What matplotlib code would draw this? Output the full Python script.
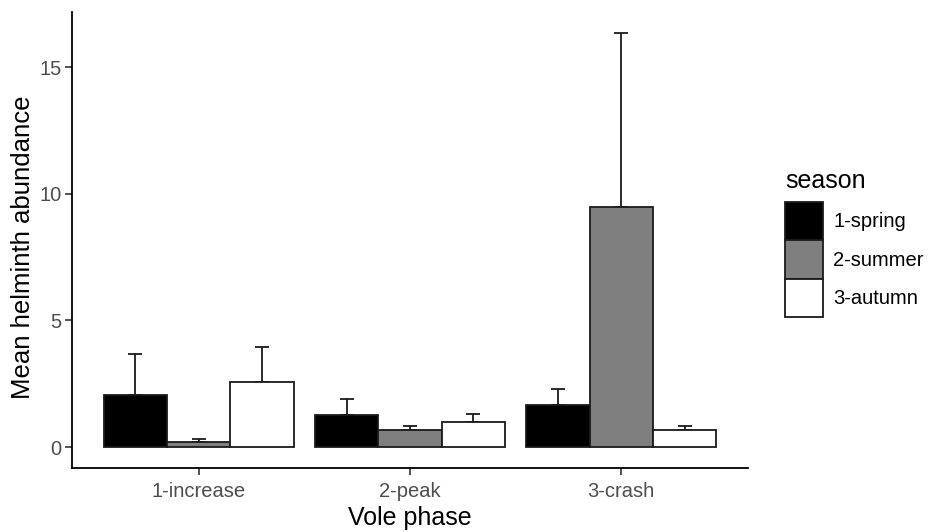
import matplotlib
matplotlib.use("Agg")
import matplotlib.pyplot as plt
import numpy as np
from matplotlib.patches import Patch

plt.rcParams['font.family'] = ['Liberation Sans', 'DejaVu Sans']

phases = ["1-increase", "2-peak", "3-crash"]
seasons = ["1-spring", "2-summer", "3-autumn"]
colors = ["#000000", "#7F7F7F", "#FFFFFF"]
means = {
    "1-spring": [2.05, 1.27, 1.66],
    "2-summer": [0.20, 0.67, 9.49],
    "3-autumn": [2.59, 1.01, 0.67],
}
upper = {
    "1-spring": [3.69, 1.91, 2.30],
    "2-summer": [0.34, 0.85, 16.35],
    "3-autumn": [3.97, 1.33, 0.85],
}

W, H = 934, 532
fig = plt.figure(figsize=(W/100, H/100), dpi=100)
ax = fig.add_axes([72/W, 1-468/H, (748-72)/W, (468-12)/H])

x = np.arange(1, len(phases)+1)
w = 0.3
for i, s in enumerate(seasons):
    xs = x + (i-1)*w
    m = np.array(means[s]); u = np.array(upper[s])
    ax.errorbar(xs, m, yerr=[np.zeros_like(m), u-m], fmt='none', ecolor='#1a1a1a',
                elinewidth=1.3, capsize=4.8, capthick=1.3, zorder=1)
    ax.bar(xs, m, width=w, color=colors[i], edgecolor='#1a1a1a', linewidth=1.3, zorder=2)

ax.set_xlim(0.4, 3.6)
ax.set_ylim(-0.82, 17.17)
ax.set_xticks(x)
ax.set_xticklabels(phases)
ax.set_yticks([0, 5, 10, 15])
for sp in ['top', 'right']:
    ax.spines[sp].set_visible(False)
for sp in ['left', 'bottom']:
    ax.spines[sp].set_linewidth(1.3)
    ax.spines[sp].set_color('black')
ax.tick_params(axis='both', colors='#333333', labelcolor='#4D4D4D', labelsize=14.5, length=5, width=1.2)
ax.tick_params(axis='x', pad=5)
ax.tick_params(axis='y', pad=2.5)

fig.text(410/W, 1-518/H, "Vole phase", fontsize=18, ha='center', va='center')
fig.text(23/W, 1-247/H, "Mean helminth abundance", fontsize=18.5, ha='center', va='center', rotation=90)

handles = [Patch(facecolor=c, edgecolor='#1a1a1a', linewidth=1.3, label=s) for s, c in zip(seasons, colors)]
fig.text(785/W, 1-181/H, "season", fontsize=18, ha='left', va='center')
leg = fig.legend(handles=handles, loc='upper left', bbox_to_anchor=(785/W, 1-202/H),
                 frameon=False, fontsize=14.5, handlelength=1.89, handleheight=2.546,
                 handletextpad=0.5, labelspacing=0.0, borderaxespad=0, borderpad=0)

fig.savefig("out.png", dpi=100)
